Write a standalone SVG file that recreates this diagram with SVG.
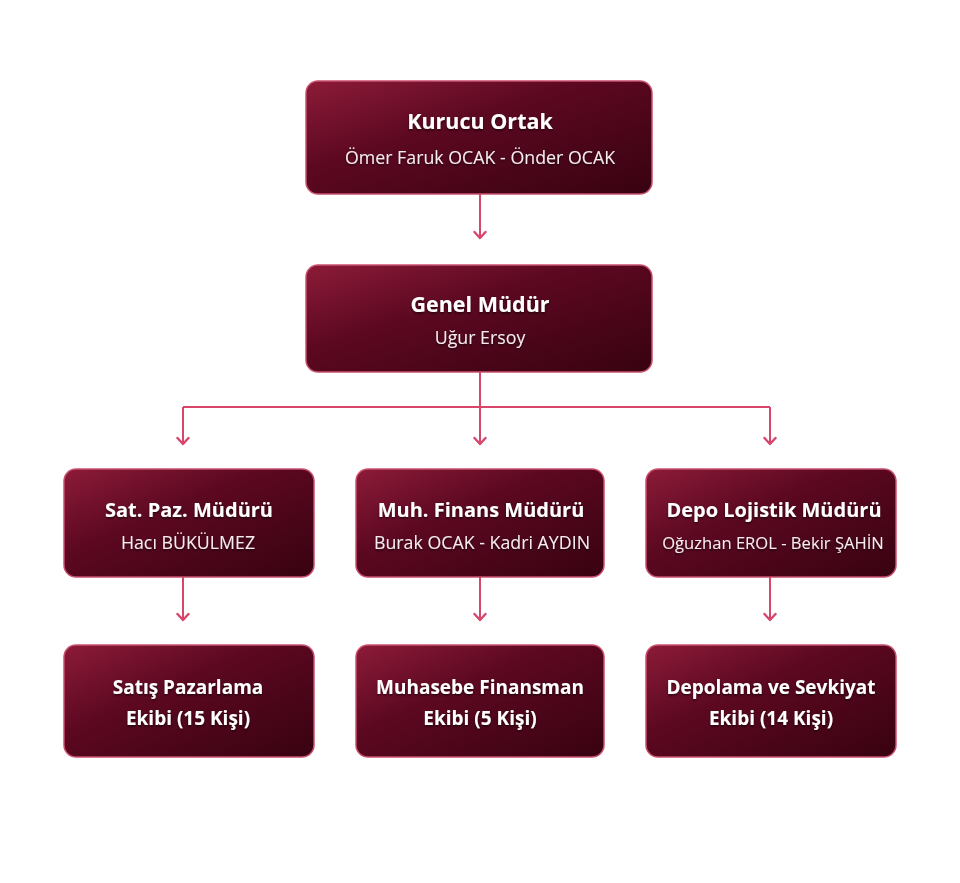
<svg xmlns="http://www.w3.org/2000/svg" width="960" height="883" viewBox="0 0 960 883">
<defs>
<linearGradient id="g" x1="0" y1="0" x2="1" y2="1">
<stop offset="0" stop-color="#8c1b38"/>
<stop offset="0.4" stop-color="#5c0821"/>
<stop offset="1" stop-color="#380211"/>
</linearGradient>
<filter id="ts" x="-10%" y="-30%" width="120%" height="160%">
<feDropShadow dx="0" dy="1.5" stdDeviation="1.2" flood-color="#000000" flood-opacity="0.6"/>
</filter>
<marker id="arr" viewBox="0 0 12 14" refX="9" refY="7" markerWidth="12" markerHeight="14" markerUnits="userSpaceOnUse" orient="auto">
<path d="M3,1.5 L9,7 L3,12.5" fill="none" stroke="#d8466c" stroke-width="2.4" stroke-linecap="round" stroke-linejoin="round"/>
</marker>
</defs>
<style>
.box{fill:url(#g);stroke:#c9506f;stroke-width:1.5}
.t{font-family:"Open Sans","Noto Sans",sans-serif;font-weight:700;font-size:20px;fill:#ffffff;text-anchor:middle;filter:url(#ts)}
.big{font-size:21.5px}
.sm{font-size:19px}
.s{font-family:"Open Sans","Noto Sans",sans-serif;font-size:17.8px;fill:#f6ecef;text-anchor:middle;filter:url(#ts)}
.c{fill:none;stroke:#d8466c;stroke-width:2}
</style>
<rect width="960" height="883" fill="#ffffff"/>
<g id="connectors">
<path class="c" d="M480,194 V238" marker-end="url(#arr)"/>
<path class="c" d="M480,372 V444" marker-end="url(#arr)"/>
<path class="c" d="M183,407 H770"/>
<path class="c" d="M183,407 V444" marker-end="url(#arr)"/>
<path class="c" d="M770,407 V444" marker-end="url(#arr)"/>
<path class="c" d="M183,577 V620" marker-end="url(#arr)"/>
<path class="c" d="M480,577 V620" marker-end="url(#arr)"/>
<path class="c" d="M770,577 V620" marker-end="url(#arr)"/>
</g>
<g id="kurucu">
<rect class="box" x="306" y="81" width="346" height="113" rx="12"/>
<text class="t big" x="480" y="129">Kurucu Ortak</text>
<text class="s" x="480" y="164">Ömer Faruk OCAK - Önder OCAK</text>
</g>
<g id="genel">
<rect class="box" x="306" y="265" width="346" height="107" rx="12"/>
<text class="t big" x="480" y="312">Genel Müdür</text>
<text class="s" x="480" y="344">Uğur Ersoy</text>
</g>
<g id="satpaz">
<rect class="box" x="64" y="469" width="250" height="108" rx="12"/>
<text class="t" x="189" y="517">Sat. Paz. Müdürü</text>
<text class="s" x="188" y="549">Hacı BÜKÜLMEZ</text>
</g>
<g id="muhfin">
<rect class="box" x="356" y="469" width="248" height="108" rx="12"/>
<text class="t" x="481" y="517">Muh. Finans Müdürü</text>
<text class="s" x="482" y="549">Burak OCAK - Kadri AYDIN</text>
</g>
<g id="depo">
<rect class="box" x="646" y="469" width="250" height="108" rx="12"/>
<text class="t" x="774" y="517">Depo Lojistik Müdürü</text>
<text class="s" x="773" y="549" style="font-size:16.6px">Oğuzhan EROL - Bekir ŞAHİN</text>
</g>
<g id="satekip">
<rect class="box" x="64" y="645" width="250" height="112" rx="12"/>
<text class="t sm" x="188" y="694">Satış Pazarlama</text>
<text class="t sm" x="188" y="725">Ekibi (15 Kişi)</text>
</g>
<g id="muhekip">
<rect class="box" x="356" y="645" width="248" height="112" rx="12"/>
<text class="t sm" x="480" y="694">Muhasebe Finansman</text>
<text class="t sm" x="480" y="725">Ekibi (5 Kişi)</text>
</g>
<g id="depoekip">
<rect class="box" x="646" y="645" width="250" height="112" rx="12"/>
<text class="t sm" x="771" y="694">Depolama ve Sevkiyat</text>
<text class="t sm" x="771" y="725">Ekibi (14 Kişi)</text>
</g>
</svg>
